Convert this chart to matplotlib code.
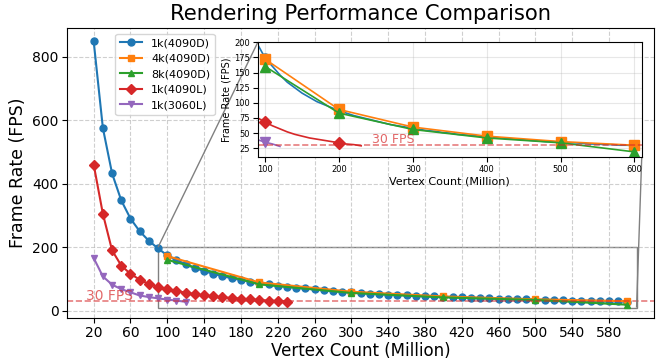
import matplotlib
matplotlib.use("Agg")
import matplotlib.pyplot as plt
from mpl_toolkits.axes_grid1.inset_locator import mark_inset

# vertex counts (million)
x_blue = list(range(20, 601, 10))
fps_1k_4090d = [848, 575, 432, 347, 290, 250, 220, 196,
                174, 160, 146, 134, 125, 116, 109, 102, 97, 92,
                87, 83, 79, 76, 73, 70, 67, 64, 62, 60,
                58, 56, 54, 53, 51, 50, 48, 47, 46, 45,
                44, 43, 42, 41, 40, 39, 38, 37, 36, 36,
                35, 34, 34, 33, 32, 32, 31, 31, 30, 30, 29]

x_big = [100, 200, 300, 400, 500, 600]
fps_4k_4090d = [172, 89, 60, 45, 36, 30]
fps_8k_4090d = [160, 83, 56, 42, 34, 19]

x_red = list(range(20, 231, 10))
fps_1k_4090l = [460, 305, 190, 142, 116, 98, 84, 75, 68, 62, 57,
                52, 48, 45, 42, 40, 38, 36, 34, 32, 31, 29]

x_purple = list(range(20, 121, 10))
fps_1k_3060l = [166, 108, 82, 68, 58, 48, 43, 39, 35, 32, 28]

series = [
    (x_blue, fps_1k_4090d, '1k(4090D)', 'tab:blue', 'o'),
    (x_big, fps_4k_4090d, '4k(4090D)', 'tab:orange', 's'),
    (x_big, fps_8k_4090d, '8k(4090D)', 'tab:green', '^'),
    (x_red, fps_1k_4090l, '1k(4090L)', 'tab:red', 'D'),
    (x_purple, fps_1k_3060l, '1k(3060L)', 'tab:purple', 'v'),
]

fig = plt.figure(figsize=(6.6, 3.6), dpi=100)
ax = fig.add_axes([0.1015, 0.117, 0.8895, 0.805])

for xs, ys, lab, col, mk in series:
    ax.plot(xs, ys, marker=mk, color=col, label=lab, markersize=5, linewidth=1.5)

ax.axhline(30, color='tab:red', linestyle='--', alpha=0.6, linewidth=1.2)
ax.text(12, 34, '30 FPS', color='tab:red', alpha=0.7, fontsize=10)

ax.set_title('Rendering Performance Comparison', fontsize=15.2)
ax.set_xlabel('Vertex Count (Million)', fontsize=12, labelpad=1)
ax.set_ylabel('Frame Rate (FPS)', fontsize=12.5)
ax.set_xticks(range(20, 600, 40))
ax.set_yticks([0, 200, 400, 600, 800])
ax.tick_params(labelsize=10, pad=2.5)
ax.grid(True, linestyle='--', alpha=0.6)
ax.legend(loc='upper left', bbox_to_anchor=(0.073, 1.0), fontsize=8)

# zoomed inset
axins = ax.inset_axes([0.325, 0.554, 0.654, 0.397])
for xs, ys, lab, col, mk in series:
    marks = [i for i, v in enumerate(xs) if v % 100 == 0]
    axins.plot(xs, ys, marker=mk, color=col, markevery=marks, markersize=6.5, linewidth=1.2)
axins.axhline(30, color='tab:red', linestyle='--', alpha=0.6, linewidth=1.2)
axins.text(245, 34, '30 FPS', color='tab:red', alpha=0.7, fontsize=9)
axins.set_xlim(90, 610)
axins.set_ylim(10, 200)
axins.set_xticks(x_big)
axins.set_yticks([25, 50, 75, 100, 125, 150, 175, 200])
axins.tick_params(labelsize=6, pad=2)
axins.set_xlabel('Vertex Count (Million)', fontsize=8, labelpad=2)
axins.set_ylabel('Frame Rate (FPS)', fontsize=7, labelpad=2)
axins.grid(True, alpha=0.3)

mark_inset(ax, axins, loc1=2, loc2=4, fc='none', ec='0.5')

fig.savefig('out.png', dpi=100)
